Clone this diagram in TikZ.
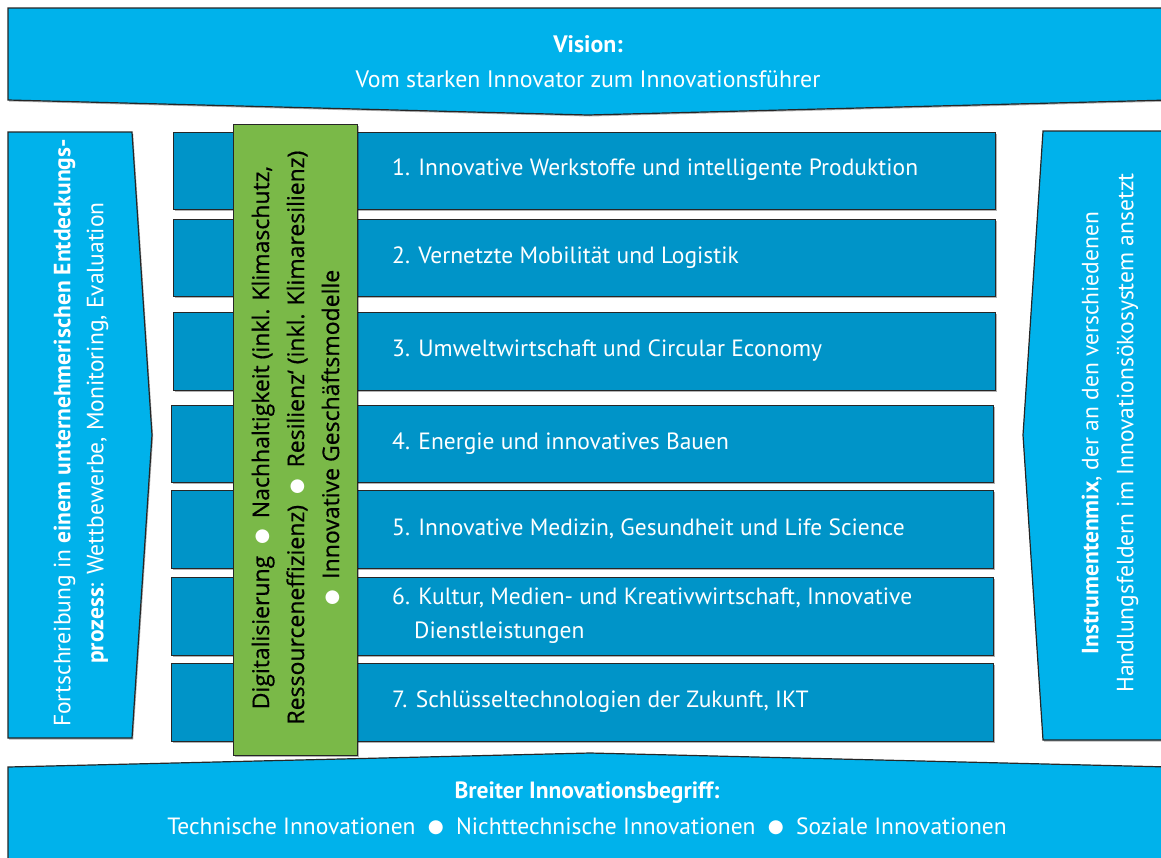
\documentclass[tikz,border=0pt]{standalone}
\usepackage{graphicx}
\usepackage{fontspec}
\usetikzlibrary{shadows}
\setmainfont{PT Sans}
\newfontfamily\gfont[FakeBold=0.6]{Open Sans}
\newfontfamily\dv{DejaVu Sans}
\definecolor{lblue}{HTML}{00B2EB}
\definecolor{dblue}{HTML}{0094C8}
\definecolor{lgreen}{HTML}{7AB948}
\newcommand{\bul}{\hspace{6pt}\raisebox{1.6pt}{\dv\scalebox{0.78}{●}}\hspace{6pt}}
\newcommand{\gbul}{\hspace{5pt}\raisebox{1.6pt}{\textcolor{white}{\dv\scalebox{0.78}{●}}}\hspace{5pt}}
\newcommand{\gbulx}{\raisebox{1.6pt}{\textcolor{white}{\dv\scalebox{0.78}{●}}}\hspace{5pt}}
\begin{document}
\begin{tikzpicture}[x=1pt,y=-1pt,
  shd/.style={drop shadow={shadow xshift=1.2pt,shadow yshift=-1.5pt,opacity=0.3,fill=black}},
  blueshape/.style={fill=lblue,draw=black!85,line width=1.2pt,line join=miter,shd},
  rowbox/.style={rectangle,fill=dblue,draw=black!85,line width=1.2pt,minimum width=822pt,minimum height=77pt,anchor=north west,inner sep=0pt,shd},
  rowtext/.style={anchor=west,text=white,font=\fontsize{23.5}{34}\selectfont,align=left,inner sep=0pt},
  bluetext/.style={text=white,align=center,inner sep=0pt},
  greenbar/.style={rectangle,fill=lgreen,draw=black!85,line width=1.2pt,anchor=north west,minimum width=124pt,minimum height=631pt,inner sep=0pt,shd}]
\useasboundingbox (0,0) rectangle (1161,857);
\clip (0,0) rectangle (1161,857);
% top banner
\draw[blueshape] (8,8) -- (1170,8) -- (1170,100) -- (588,115) -- (8,100) -- cycle;
\node[bluetext,font=\fontsize{23.8}{35}\selectfont] (vision) at (588,62) {\textbf{Vision:}\\Vom starken Innovator zum Innovationsführer};
% bottom banner
\draw[blueshape] (8,767) -- (590,753) -- (1170,767) -- (1170,870) -- (8,870) -- cycle;
\node[bluetext,font=\fontsize{23.5}{36}\selectfont] (breit) at (587,808) {\textbf{Breiter Innovationsbegriff:}\\Technische Innovationen \bul\ Nichttechnische Innovationen \bul\ Soziale Innovationen};
% left box
\draw[blueshape] (8,132) -- (132,132) -- (152,435) -- (132,738) -- (8,738) -- cycle;
\node[bluetext,rotate=90,font=\fontsize{23.5}{33}\selectfont] (left) at (81,433) {Fortschreibung in \textbf{einem unternehmerischen Entdeckungs-}\\\textbf{prozess}: Wettbewerbe, Monitoring, Evaluation};
% right box
\draw[blueshape] (1043,131) -- (1170,131) -- (1170,740) -- (1043,740) -- (1023,435) -- cycle;
\node[bluetext,rotate=90,font=\fontsize{23.5}{35}\selectfont] (right) at (1110,433) {\textbf{Instrumentenmix}, der an den verschiedenen\\Handlungsfeldern im Innovationsökosystem ansetzt};
% rows
\node[rowbox] (r1) at (173,132) {};
\node[rowbox] (r2) at (173,219) {};
\node[rowbox,minimum height=78pt] (r3) at (173,312) {};
\node[rowbox] (r4) at (171,405) {};
\node[rowbox,minimum height=78pt] (r5) at (171,490) {};
\node[rowbox,minimum height=78pt] (r6) at (171,577) {};
\node[rowbox,minimum height=78pt] (r7) at (171,663) {};
\node[rowtext] (t1) at (392,170) {1. Innovative Werkstoffe und intelligente Produktion};
\node[rowtext] (t2) at (392,258) {2. Vernetzte Mobilität und Logistik};
\node[rowtext] (t3) at (392,351) {3. Umweltwirtschaft und Circular Economy};
\node[rowtext] (t4) at (392,444) {4. Energie und innovatives Bauen};
\node[rowtext] (t5) at (392,529) {5. Innovative Medizin, Gesundheit und Life Science};
\node[rowtext] (t6) at (392,616) {6. Kultur, Medien- und Kreativwirtschaft, Innovative\\\hspace*{22pt}Dienstleistungen};
\node[rowtext] (t7) at (392,702) {7. Schlüsseltechnologien der Zukunft, IKT};
% green bar
\node[greenbar] (green) at (233,124) {};
\node[rotate=90,align=center,inner sep=0pt,font=\gfont\fontsize{23}{35}\selectfont] (gt) at ([yshift=2.5pt]green.center) {Digitalisierung \gbul\ Nachhaltigkeit (inkl. Klimaschutz,\\Ressourceneffizienz) \gbul\ Resilienz‘ (inkl. Klimaresilienz)\\\gbulx\ Innovative Geschäftsmodelle};
\end{tikzpicture}
\end{document}
